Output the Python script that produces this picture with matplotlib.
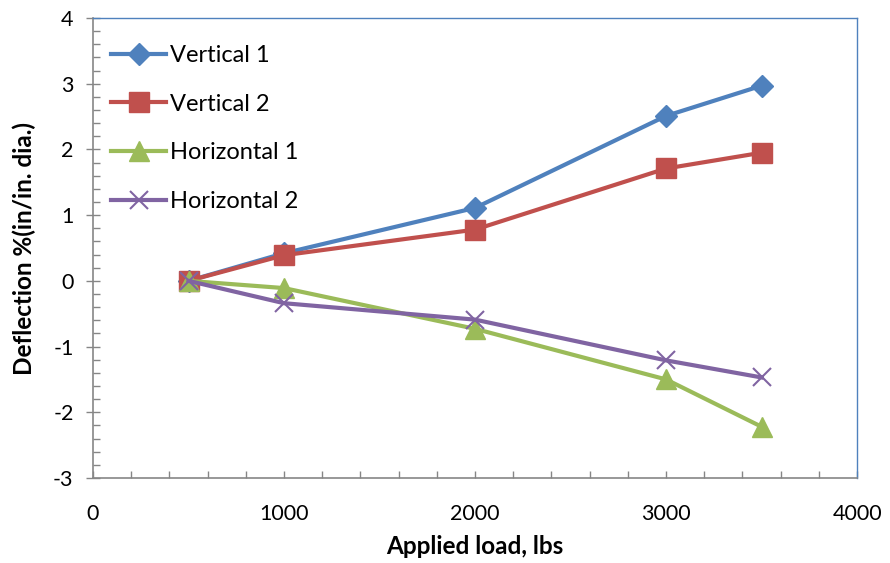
import numpy as np
from matplotlib import pyplot as plt
from matplotlib.ticker import MultipleLocator

plt.rcParams['font.family'] = ['Lato', 'DejaVu Sans']
plt.rcParams['axes.unicode_minus'] = False

load = [500, 1000, 2000, 3000, 3500]
vertical1 = [0.0, 0.42, 1.11, 2.51, 2.97]
vertical2 = [0.0, 0.39, 0.78, 1.71, 1.95]
horizontal1 = [0.0, -0.11, -0.73, -1.50, -2.22]
horizontal2 = [0.0, -0.34, -0.59, -1.21, -1.47]

series_names = ['Vertical 1', 'Vertical 2', 'Horizontal 1', 'Horizontal 2']

fig = plt.figure(figsize=(8.9, 5.63), dpi=100)
ax = fig.add_axes([0.1045, 0.151, 0.8585, 0.817])

ax.plot(load, vertical1, color='#4F81BD', lw=3, marker='D', ms=11,
        label=series_names[0], zorder=3)
ax.plot(load, vertical2, color='#C0504D', lw=3, marker='s', ms=14,
        label=series_names[1], zorder=3)
ax.plot(load, horizontal1, color='#9BBB59', lw=3, marker='^', ms=14,
        label=series_names[2], zorder=3)
ax.plot(load, horizontal2, color='#8064A2', lw=3, marker='x', ms=13, mew=1.5,
        label=series_names[3], zorder=3)

ax.set_xlim(0, 4000)
ax.set_ylim(-3, 4)
ax.xaxis.set_major_locator(MultipleLocator(1000))
ax.xaxis.set_minor_locator(MultipleLocator(200))
ax.yaxis.set_major_locator(MultipleLocator(1))
ax.yaxis.set_minor_locator(MultipleLocator(0.2))

ax.tick_params(axis='x', which='both', direction='in', length=5, width=1,
               color='#868686', labelsize=15.5, pad=19)
ax.tick_params(axis='y', which='major', direction='inout', length=10, width=1,
               color='#868686', labelsize=15.5, pad=9)
ax.tick_params(axis='y', which='minor', direction='in', length=5, width=1,
               color='#868686')

for s in ['left', 'bottom']:
    ax.spines[s].set_color('#868686')
    ax.spines[s].set_linewidth(1.2)
for s in ['top', 'right']:
    ax.spines[s].set_color('#4F81BD')
    ax.spines[s].set_linewidth(1)

ax.set_xlabel('Applied load, lbs', fontsize=17.5, fontweight='bold', labelpad=8)
ax.set_ylabel('Deflection %(in/in. dia.)', fontsize=17.5, fontweight='bold', labelpad=12)

ax.legend(loc='upper left', frameon=False, fontsize=17, handlelength=2.35,
          handletextpad=0.15, labelspacing=1.17, borderaxespad=0.0,
          bbox_to_anchor=(0.011, 0.962))

plt.savefig('out.png', dpi=100)
